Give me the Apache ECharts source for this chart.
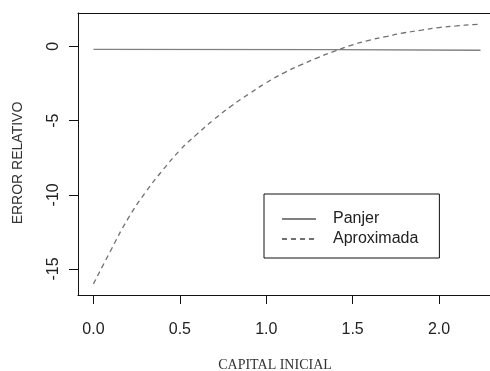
<!DOCTYPE html>
<html>
<head>
<meta charset="utf-8">
<title>Error relativo</title>
<script src="https://cdn.jsdelivr.net/npm/echarts@6/dist/echarts.min.js"></script>
<style>
  html, body { margin: 0; padding: 0; background: #fff; }
  #chart_error { width: 490px; height: 371px; }
</style>
</head>
<body>
<div id="chart_error"></div>
<script>
// capital inicial (x) and values
var capital = [0.0, 0.1, 0.2, 0.3, 0.4, 0.5, 0.6, 0.7, 0.8, 0.9, 1.0, 1.1,
               1.2, 1.3, 1.4, 1.5, 1.6, 1.7, 1.8, 1.9, 2.0, 2.1, 2.2, 2.24];
var aproximada = [-16.0, -13.75, -11.6, -9.85, -8.35, -7.0, -5.9, -4.9, -4.0, -3.2, -2.45, -1.8,
                  -1.25, -0.75, -0.3, 0.1, 0.42, 0.68, 0.92, 1.1, 1.27, 1.38, 1.47, 1.5];
var panjerX = [0.0, 1.4, 2.24];
var panjer = [-0.2, -0.22, -0.26];

var xTicks = [0, 0.5, 1, 1.5, 2];
var yTicks = [-15, -10, -5, 0];
var seriesNames = ['Panjer', 'Aproximada'];

function pairs(xs, ys) {
  var out = [];
  for (var i = 0; i < xs.length; i++) { out.push([xs[i], ys[i]]); }
  return out;
}

function init_echarts() {
  if (typeof (echarts) === 'undefined') { return; }

  var chart = echarts.init(document.getElementById('chart_error'), null, { renderer: 'canvas' });
  var labelFont = 'Liberation Sans, Arial, sans-serif';
  var boxLine = { show: true, onZero: false, lineStyle: { color: '#111', width: 1 } };

  // the plot box runs past the right edge of the picture, so only
  // left / bottom / top lines are drawn (grid right = window edge)
  chart.setOption({
    animation: false,
    backgroundColor: '#fff',
    grid: {
      show: false,
      left: 78, top: 13, right: 0, height: 282,
      containLabel: false
    },
    legend: {
      orient: 'vertical',
      left: 264, top: 194,
      data: seriesNames,
      padding: [17, 21, 11, 17],
      itemGap: 4,
      itemWidth: 34, itemHeight: 14,
      borderColor: '#111', borderWidth: 1,
      borderRadius: 0,
      backgroundColor: '#fff',
      itemStyle: { opacity: 0 },
      textStyle: {
        fontFamily: labelFont, fontSize: 16, color: '#222',
        padding: [0, 0, 0, 12]
      }
    },
    xAxis: [
      {
        type: 'value',
        position: 'bottom',
        min: -0.0896, max: 2.295,
        axisLine: boxLine,
        splitLine: { show: false },
        axisTick: {
          show: true, length: 9, inside: false,
          customValues: xTicks,
          lineStyle: { color: '#111', width: 1 }
        },
        axisLabel: {
          customValues: xTicks,
          margin: 27,
          fontFamily: labelFont, fontSize: 16, color: '#222',
          formatter: function (v) { return v.toFixed(1); }
        }
      },
      {
        type: 'value',
        position: 'top',
        min: -0.0896, max: 2.295,
        axisLine: boxLine,
        splitLine: { show: false },
        axisTick: { show: false },
        axisLabel: { show: false }
      }
    ],
    yAxis: {
      type: 'value',
      min: -16.75, max: 2.25,
      axisLine: boxLine,
      splitLine: { show: false },
      axisTick: {
        show: true, length: 9, inside: false,
        customValues: yTicks,
        lineStyle: { color: '#111', width: 1 }
      },
      axisLabel: {
        customValues: yTicks,
        rotate: 90,
        margin: 16,
        fontFamily: labelFont, fontSize: 16, color: '#222'
      }
    },
    graphic: [
      {
        type: 'text',
        x: 275, y: 365,
        style: {
          text: 'CAPITAL INICIAL',
          font: '14px "Liberation Serif", serif',
          fill: '#333',
          textAlign: 'center', textVerticalAlign: 'middle'
        }
      },
      {
        type: 'text',
        x: 18, y: 163,
        rotation: Math.PI / 2,
        style: {
          text: 'ERROR RELATIVO',
          font: '14px "Liberation Sans", Arial, sans-serif',
          fill: '#333',
          textAlign: 'center', textVerticalAlign: 'middle'
        }
      }
    ],
    series: [
      {
        name: 'Panjer',
        type: 'line',
        xAxisIndex: 0,
        data: pairs(panjerX, panjer),
        symbol: 'none',
        lineStyle: { color: '#808080', width: 1.4, type: 'solid' },
        itemStyle: { color: '#808080' }
      },
      {
        name: 'Aproximada',
        type: 'line',
        xAxisIndex: 0,
        data: pairs(capital, aproximada),
        symbol: 'none',
        smooth: true,
        lineStyle: { color: '#707070', width: 1.3, type: [5, 4] },
        itemStyle: { color: '#707070' }
      }
    ]
  });
}

init_echarts();
</script>
</body>
</html>
